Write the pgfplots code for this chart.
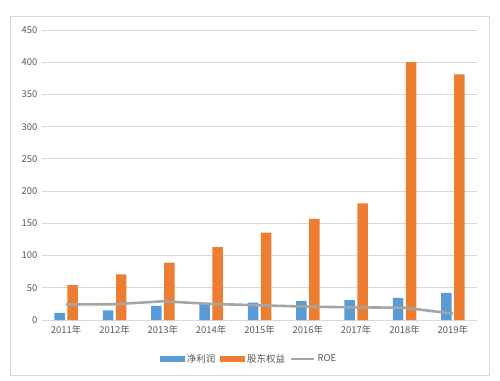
\documentclass[border=0pt]{standalone}
\usepackage{fontspec}
\setmainfont{Noto Sans CJK SC}
\usepackage{pgfplots}
\pgfplotsset{compat=1.18}
\definecolor{cblue}{HTML}{5B9BD5}
\definecolor{corange}{HTML}{ED7D31}
\definecolor{cgray}{HTML}{A5A5A5}
\definecolor{cgrid}{HTML}{D9D9D9}
\definecolor{ctext}{HTML}{595959}
\begin{document}
\begin{tikzpicture}[x=1bp,y=1bp]
\useasboundingbox (0,0) rectangle (500,380);
\draw[cgrid, line width=0.8bp] (10,5) rectangle (489,364);
\begin{axis}[
  at={(42bp,60bp)}, anchor=south west,
  scale only axis, width=435bp, height=290bp,
  xmin=-0.5, xmax=8.5, ymin=0, ymax=450,
  ytick={0,50,...,450},
  xtick={0,...,8},
  xticklabels={2011年,2012年,2013年,2014年,2015年,2016年,2017年,2018年,2019年},
  axis line style={draw=none},
  tick style={draw=none},
  ymajorgrids, grid style={cgrid, line width=0.8bp},
  tick label style={font=\fontsize{9.5}{11}\selectfont, text=ctext},
  /pgf/number format/assume math mode=true,
  yticklabel style={xshift=-1bp},
  xticklabel style={yshift=-2bp},
  legend columns=3,
  legend style={at={(axis description cs:0.476,-0.134)}, anchor=center, draw=none, fill=none,
    font=\fontsize{9.5}{11}\selectfont, text=ctext,
    /tikz/every even column/.append style={column sep=3bp}},
  legend cell align=left,
]
\addplot[ybar, bar width=10.5bp, bar shift=-6.5bp, fill=cblue, draw=none,
  legend image code/.code={\fill[cblue] (0bp,-3bp) rectangle (25bp,3bp);}]
  coordinates {(0,11) (1,15) (2,22) (3,25) (4,27) (5,29.5) (6,31) (7,34.5) (8,42)};
\addlegendentry{净利润}
\addplot[ybar, bar width=10.5bp, bar shift=6.5bp, fill=corange, draw=none,
  legend image code/.code={\fill[corange] (0bp,-3bp) rectangle (25bp,3bp);}]
  coordinates {(0,54) (1,71) (2,89) (3,113) (4,135.5) (5,157) (6,181) (7,400) (8,381)};
\addlegendentry{股东权益}
\addplot[cgray, line width=2.6bp, mark=none,
  legend image code/.code={\draw[cgray, line width=2.6bp] (0bp,0bp) -- (23bp,0bp);}]
  coordinates {(0,24) (1,24.5) (2,29) (3,25) (4,22.8) (5,20.7) (6,19.7) (7,19) (8,10)};
\addlegendentry{ROE}
\end{axis}
\end{tikzpicture}
\end{document}
